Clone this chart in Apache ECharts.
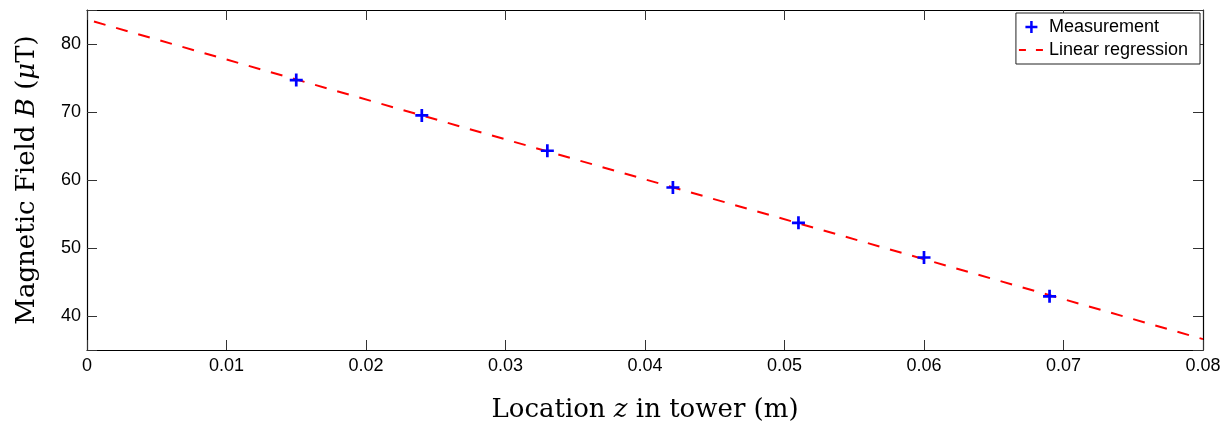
<!DOCTYPE html>
<html>
<head>
<meta charset="utf-8">
<script src="https://cdn.jsdelivr.net/npm/echarts@6/dist/echarts.min.js"></script>
<style>
  html, body { margin: 0; padding: 0; background: #fff; }
  #chart { width: 1226px; height: 423px; }
</style>
</head>
<body>
<div id="chart"></div>
<script>
const locationZ = [0.015, 0.024, 0.033, 0.042, 0.051, 0.060, 0.069];
const fieldB = [74.7, 69.5, 64.3, 58.9, 53.7, 48.6, 42.9];

// regression line end points
const fitZ = [0.0005, 0.08];
const fitB = [83.3, 36.6];

const plusSymbol = 'path://M0,4.75h12v2.5h-12z M4.75,0h2.5v12h-2.5z';
// same cross, padded to an 18x18 box so the legend keeps it small
const plusIcon = 'path://M0,0h0.01v0.01h-0.01z M17.99,17.99h0.01v0.01h-0.01z M3,7.75h12v2.5h-12z M7.75,3h2.5v12h-2.5z';
const sans = 'Liberation Sans';
const serif = 'DejaVu Serif';

const chart = echarts.init(document.getElementById('chart'));

const tickStyle = { show: true, inside: true, length: 10, lineStyle: { color: '#333', width: 1 } };
const lineStyle = { show: true, onZero: false, lineStyle: { color: '#000', width: 1.2 } };
const nameStyle = {
  fontFamily: serif, fontSize: 26, color: '#000',
  rich: { i: { fontFamily: serif, fontStyle: 'italic', fontSize: 26, color: '#000' } }
};

const option = {
  backgroundColor: '#fff',
  animation: false,
  grid: { left: 87, right: 23, top: 10, bottom: 73, outerBoundsMode: 'none' },
  legend: {
    orient: 'vertical',
    right: 26,
    top: 13,
    padding: [5, 12, 5, 2],
    itemGap: 5,
    itemWidth: 25,
    itemHeight: 18,
    borderColor: '#222',
    borderWidth: 1,
    backgroundColor: '#fff',
    lineStyle: { type: [7, 10] },
    textStyle: { fontFamily: sans, fontSize: 18, color: '#000' },
    data: [
      { name: 'Measurement', icon: plusIcon },
      { name: 'Linear regression', itemStyle: { color: 'rgba(0,0,0,0)', borderWidth: 0 } }
    ]
  },
  xAxis: [
    {
      type: 'value',
      min: 0,
      max: 0.08,
      interval: 0.01,
      position: 'bottom',
      name: 'Location {i|z} in tower (m)',
      nameLocation: 'middle',
      nameGap: 47,
      nameTextStyle: nameStyle,
      axisLine: lineStyle,
      axisTick: tickStyle,
      splitLine: { show: false },
      axisLabel: { fontFamily: sans, fontSize: 18, color: '#000', margin: 7 }
    },
    {
      type: 'value',
      min: 0,
      max: 0.08,
      interval: 0.01,
      position: 'top',
      axisLine: lineStyle,
      axisTick: tickStyle,
      splitLine: { show: false },
      axisLabel: { show: false }
    }
  ],
  yAxis: [
    {
      type: 'value',
      min: 35,
      max: 85,
      splitNumber: 5,
      position: 'left',
      name: 'Magnetic Field {i|B} ({i|μ}T)',
      nameLocation: 'middle',
      nameGap: 47,
      nameTextStyle: nameStyle,
      axisLine: lineStyle,
      axisTick: tickStyle,
      splitLine: { show: false },
      axisLabel: {
        fontFamily: sans, fontSize: 18, color: '#000', margin: 6,
        formatter: v => (v % 10 === 0 ? String(v) : '')
      }
    },
    {
      type: 'value',
      min: 35,
      max: 85,
      splitNumber: 5,
      position: 'right',
      axisLine: lineStyle,
      axisTick: tickStyle,
      splitLine: { show: false },
      axisLabel: { show: false }
    }
  ],
  series: [
    {
      name: 'Linear regression',
      type: 'line',
      data: fitZ.map((z, i) => [z, fitB[i]]),
      symbol: 'none',
      lineStyle: { color: '#ff0000', width: 2, type: [12, 11] },
      itemStyle: { color: '#ff0000' },
      z: 2
    },
    {
      name: 'Measurement',
      type: 'scatter',
      data: locationZ.map((z, i) => [z, fieldB[i]]),
      symbol: plusSymbol,
      symbolSize: 13,
      itemStyle: { color: '#0000ff', opacity: 1 },
      z: 3
    }
  ]
};

chart.setOption(option);
</script>
</body>
</html>
